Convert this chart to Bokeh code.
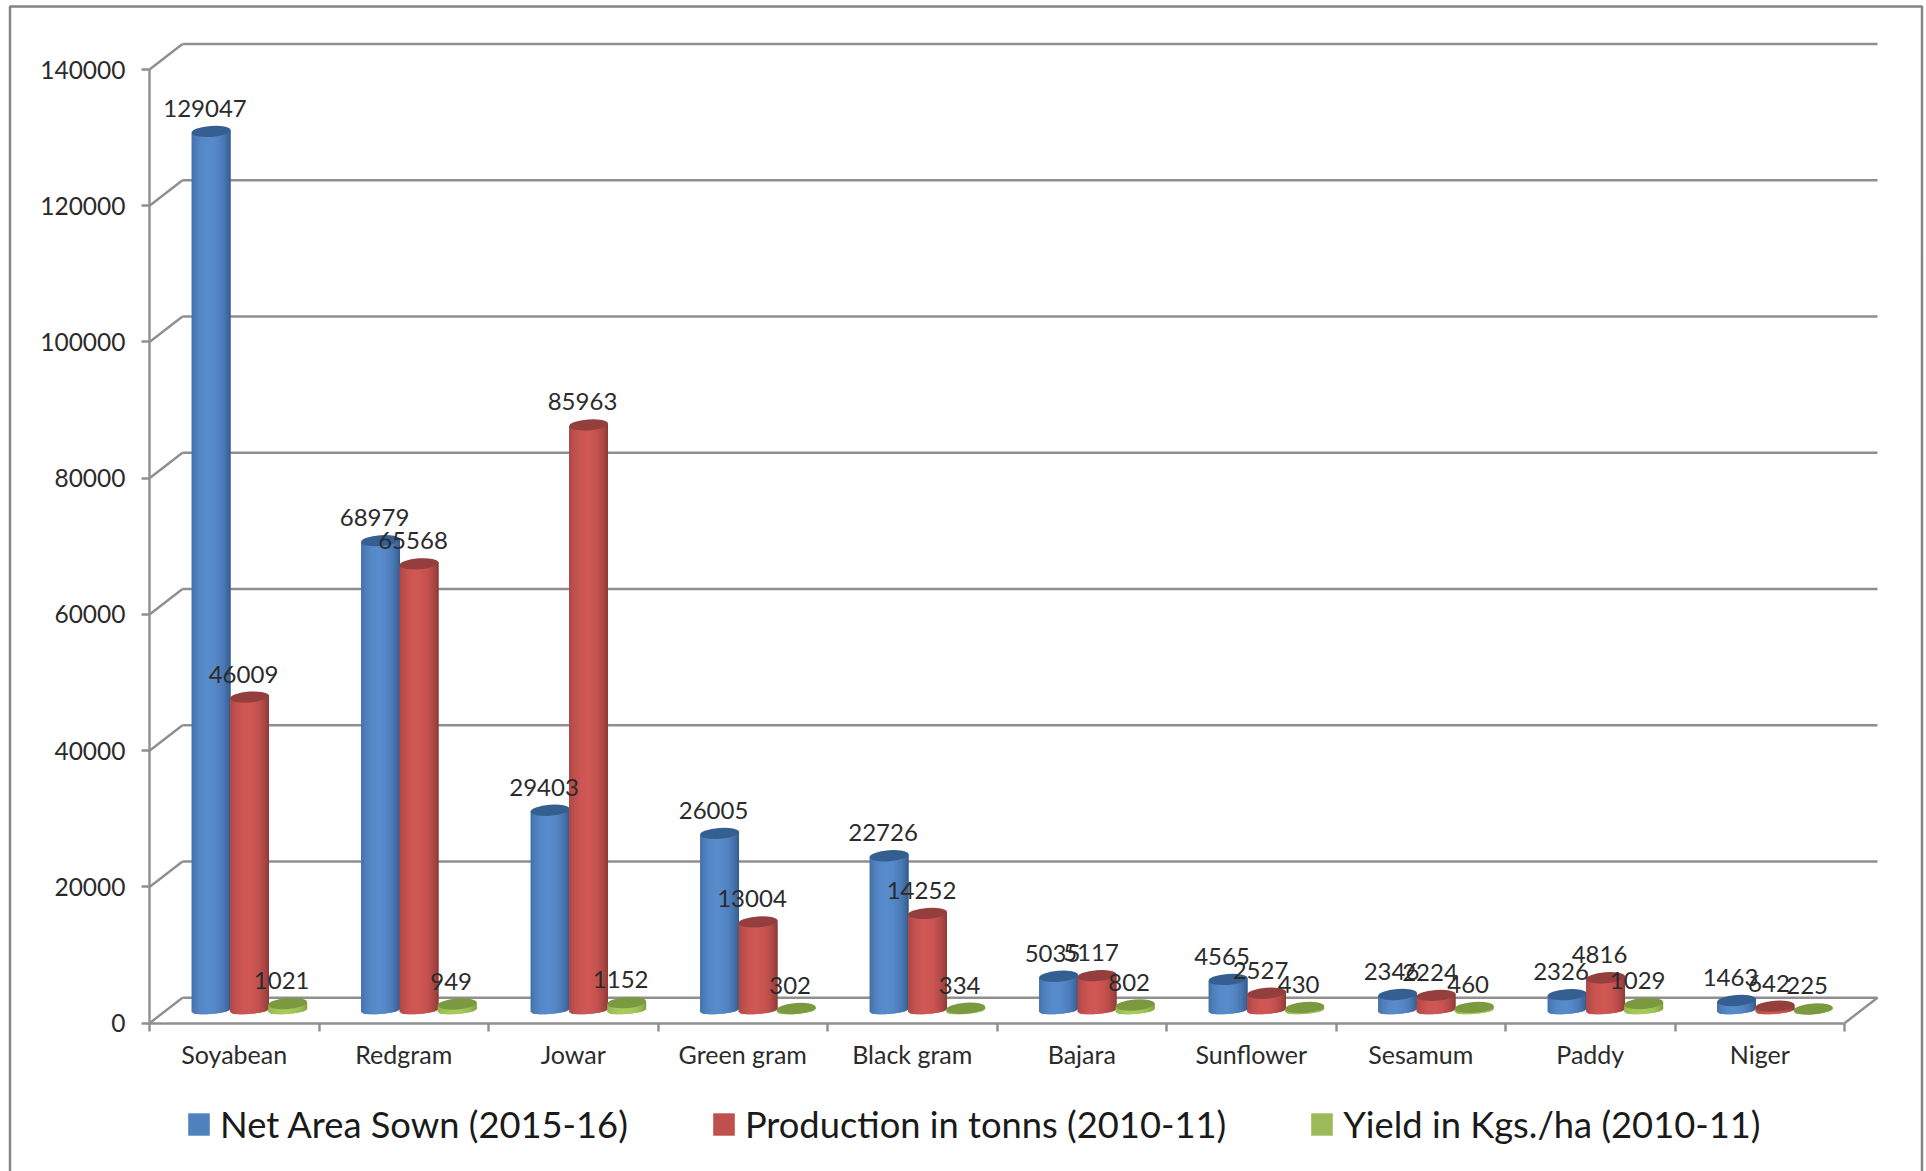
from bokeh.core.properties import value
from bokeh.embed import file_html
from bokeh.models import (ColumnDataSource, FixedTicker, Legend, LegendItem, LinearAxis,
                          NumeralTickFormatter, Range1d)
from bokeh.plotting import figure
from bokeh.resources import INLINE
import math

# Crop statistics by crop
categories = ["Soyabean", "Redgram", "Jowar", "Green gram", "Black gram",
              "Bajara", "Sunflower", "Sesamum", "Paddy", "Niger"]
net_area = [129047, 68979, 29403, 26005, 22726, 5035, 4565, 2346, 2326, 1463]
production = [46009, 65568, 85963, 13004, 14252, 5117, 2527, 2224, 4816, 642]
yield_kg = [1021, 949, 1152, 302, 334, 802, 430, 460, 1029, 225]
y_ticks = [0, 20000, 40000, 60000, 80000, 100000, 120000, 140000]

series = [
    ("Net Area Sown (2015-16)", net_area, 0.363, "#4f81bd", "#355f91", (0x2f, 0x55, 0x85), (0x58, 0x8b, 0xcb)),
    ("Production in tonns (2010-11)", production, 0.590, "#c0504d", "#943f3d", (0x85, 0x36, 0x34), (0xcf, 0x57, 0x54)),
    ("Yield in Kgs./ha (2010-11)", yield_kg, 0.815, "#9bbb59", "#7b9a40", (0x7d, 0x9c, 0x3e), (0xa6, 0xcc, 0x5c)),
]

# Pixel geometry of the chart box
W, H = 1926, 1171
AXIS_LEFT, AXIS_BOTTOM = 149.0, 1022.7
CAT_PX = 169.5
UNIT_PX = 953.7 / 140000
X_PER_PX = 1 / CAT_PX
Y_PER_PX = 1 / UNIT_PX

# Depth of the 3D floor and walls
WALL_DX, WALL_DY = 33 * X_PER_PX, 25.5 * Y_PER_PX
BASE_DY = 12.7 * Y_PER_PX
BAR_W = 0.23
CAP_H = 11 * Y_PER_PX
BASE_SAG = 3.5 * Y_PER_PX
TILT = 3 * Y_PER_PX
STRIPS = 24

GRID = "#8f8f8f"
GRID_W = 2.4
TEXT = "#2b2b2b"
FONT = "Lato"

p = figure(width=W, height=H, output_backend="svg", toolbar_location=None,
           x_range=Range1d(-AXIS_LEFT * X_PER_PX, (W - AXIS_LEFT) * X_PER_PX),
           y_range=Range1d((AXIS_BOTTOM - H) * Y_PER_PX, AXIS_BOTTOM * Y_PER_PX),
           min_border=0, x_axis_type=None, y_axis_type=None, outline_line_color=None)
p.grid.visible = False
p.background_fill_color = "white"

# Chart area border
bx0, bx1 = (9.5 - AXIS_LEFT) * X_PER_PX, (1921.5 - AXIS_LEFT) * X_PER_PX
by0, by1 = (AXIS_BOTTOM - H) * Y_PER_PX, (AXIS_BOTTOM - 6) * Y_PER_PX
p.line([bx0, bx0, bx1, bx1], [by0, by1, by1, by0], line_color="#858585", line_width=2.5)

# Back wall gridlines with their diagonals towards the front axis
p.segment(x0=[WALL_DX] * len(y_ticks), x1=[10 + WALL_DX] * len(y_ticks),
          y0=[t + WALL_DY for t in y_ticks], y1=[t + WALL_DY for t in y_ticks],
          line_color=GRID, line_width=GRID_W)
p.segment(x0=[0] * len(y_ticks), x1=[WALL_DX] * len(y_ticks),
          y0=y_ticks, y1=[t + WALL_DY for t in y_ticks], line_color=GRID, line_width=GRID_W)
p.segment(x0=[10], x1=[10 + WALL_DX], y0=[0], y1=[WALL_DY], line_color=GRID, line_width=GRID_W)


def shade(dark, light, u):
    # Cylinder lighting: dark rims, brightest a little left of centre
    t = max(0.0, 1 - (abs(u - 0.44) / 0.56) ** 2)
    t = t ** 0.7
    return "#%02x%02x%02x" % tuple(round(d + (l - d) * t) for d, l in zip(dark, light))


def rim_bottom(u):
    # Lower rim of a cylinder at fraction u of its width
    return BASE_DY + TILT * (u - 0.5) - BASE_SAG * math.sqrt(max(0.0, 1 - (2 * u - 1) ** 2))


legend_items = []
for name, vals, offset, swatch, cap, dark, light in series:
    xs, ys, colors = [], [], []
    for i, v in enumerate(vals):
        left = i + offset - BAR_W / 2
        for s in range(STRIPS):
            # Each strip reaches under its right neighbour so no seams show
            u0 = s / STRIPS
            u1 = min(1.0, (s + 2) / STRIPS)
            xs.append([left + BAR_W * u0, left + BAR_W * u1, left + BAR_W * u1, left + BAR_W * u0])
            ys.append([v + BASE_DY + TILT * (u0 - 0.5), v + BASE_DY + TILT * (u1 - 0.5),
                       rim_bottom(u1), rim_bottom(u0)])
            colors.append(shade(dark, light, (s + 0.5) / STRIPS))
    body = ColumnDataSource(dict(xs=xs, ys=ys, color=colors))
    p.patches(xs="xs", ys="ys", source=body, fill_color="color", line_color=None)
    caps = ColumnDataSource(dict(x=[i + offset for i in range(len(vals))],
                                 y=[v + BASE_DY for v in vals]))
    p.ellipse(x="x", y="y", width=BAR_W, height=CAP_H, angle=math.radians(4.5), source=caps,
              fill_color=cap, line_color=None)
    key = p.quad(left=[0], right=[0], top=[0], bottom=[0], fill_color=swatch, line_color=None)
    legend_items.append(LegendItem(label=name, renderers=[key]))

# Value labels above each bar
for name, vals, offset, *_ in series:
    labels = ColumnDataSource(dict(x=[i + offset for i in range(len(vals))],
                                   y=[v + BASE_DY for v in vals],
                                   t=[str(v) for v in vals]))
    p.text(x="x", y="y", text="t", source=labels, x_offset=-6, y_offset=-23,
           text_font=value(FONT), text_font_size="24px", text_color=TEXT,
           text_align="center", text_baseline="middle")

# Front axes
y_axis = LinearAxis(fixed_location=0, ticker=FixedTicker(ticks=y_ticks),
                    formatter=NumeralTickFormatter(format="0"), bounds=(0, 140000),
                    major_tick_in=0, major_tick_out=8, minor_tick_line_color=None,
                    axis_line_color=GRID, axis_line_width=GRID_W, major_tick_line_color=GRID,
                    major_tick_line_width=GRID_W, major_label_standoff=16,
                    major_label_text_font=FONT, major_label_text_font_size="24.5px",
                    major_label_text_color=TEXT)
p.add_layout(y_axis, "left")

x_axis = LinearAxis(fixed_location=0, ticker=FixedTicker(ticks=list(range(11))), bounds=(0, 10),
                    major_tick_in=0, major_tick_out=8, minor_tick_line_color=None,
                    axis_line_color=GRID, axis_line_width=GRID_W, major_tick_line_color=GRID,
                    major_tick_line_width=GRID_W, major_label_text_color=None,
                    major_label_text_font_size="1px")
p.add_layout(x_axis, "below")

mid_ticks = [i + 0.5 for i in range(len(categories))]
cat_axis = LinearAxis(fixed_location=0, ticker=FixedTicker(ticks=mid_ticks),
                      major_label_overrides=dict(zip(mid_ticks, categories)),
                      major_tick_in=0, major_tick_out=0, minor_tick_line_color=None,
                      axis_line_color=None, major_tick_line_color=None,
                      major_label_standoff=16, major_label_text_font=FONT,
                      major_label_text_font_size="25px", major_label_text_color=TEXT)
p.add_layout(cat_axis, "below")

legend = Legend(items=legend_items, orientation="horizontal", location=(185, 25.5),
                margin=0, padding=0, spacing=82, glyph_width=27, glyph_height=28,
                label_standoff=8, border_line_color=None, background_fill_alpha=0,
                label_text_font=FONT, label_text_font_size="36.3px", label_text_color="#1a1a1a")
p.add_layout(legend)

open("out.html", "w").write(file_html(p, INLINE))
